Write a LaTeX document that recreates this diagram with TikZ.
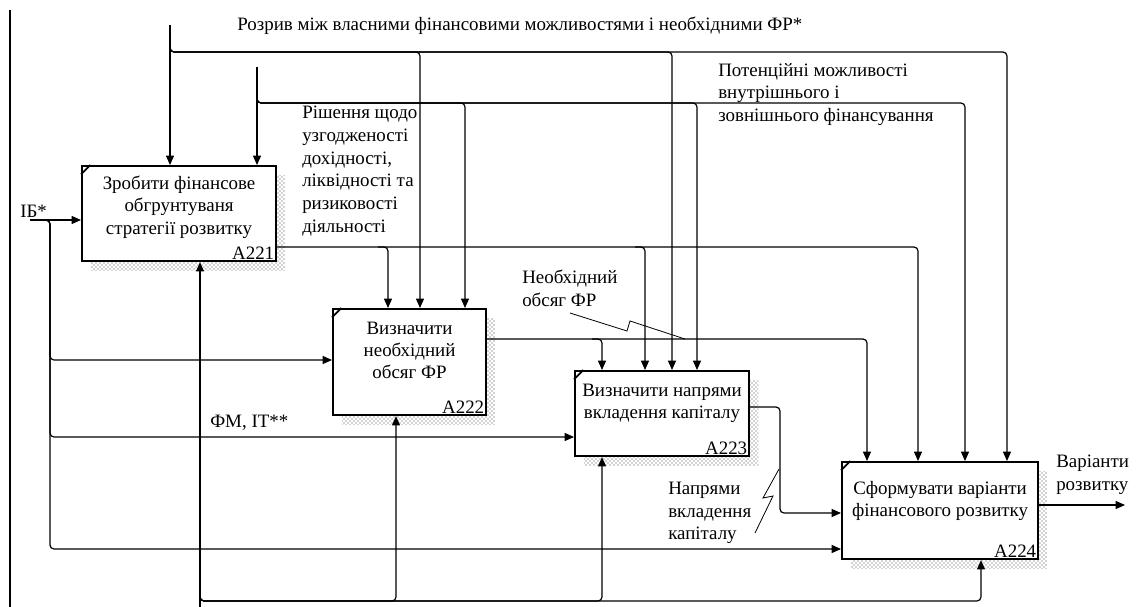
\documentclass[tikz,border=0pt]{standalone}
\usepackage{fontspec}
\setmainfont{Liberation Serif}
\usepackage{tikz}
\usetikzlibrary{arrows.meta,patterns,positioning}
\def\abox#1#2#3#4#5#6#7{%
  \fill[shade,shift={(10,10)}] (#2) rectangle ++(#3,#4);
  \node[func,anchor=north west,minimum width=#3*0.75pt,minimum height=#4*0.75pt] (#1) at (#2) {};
  \draw[line width=1.4pt] ([yshift=-7pt]#1.north west) -- ([xshift=7pt]#1.north west);
  \node[txt,align=center,anchor=north] (#1t) at ([yshift=-#7pt]#1.north) {#5};
  \node[num] (#1n) at (#1.south east) {#6};}
\tikzstyle{func}=[draw,line width=1.6pt,fill=white,inner sep=0pt]
\tikzstyle{shade}=[pattern=crosshatch dots,pattern color=black!75]
\tikzstyle{flow}=[line width=0.9pt,rounded corners=3pt]
\tikzstyle{tip}=[-{Triangle[length=7pt,width=6pt]}]
\tikzstyle{txt}=[font=\fontsize{14.2}{16.8}\selectfont,inner sep=0pt,align=left]
\tikzstyle{num}=[font=\fontsize{14.2}{16.8}\selectfont,anchor=south east,inner sep=2pt]

\begin{document}
\begin{tikzpicture}[x=0.75pt,y=-0.75pt]
    \useasboundingbox (0,0) rectangle (1136,607);
    \draw[line width=0.9pt] (10,10) -- (10,607);
    % activities
    \abox{a221}{81,165}{194}{95}{Зробити фінансове\\обгрунтуваня\\стратегії розвитку}{A221}{8}
    \abox{a222}{332,308}{153}{106}{Визначити\\необхідний\\обсяг ФР}{A222}{10}
    \abox{a223}{574,370}{174}{85}{Визначити напрями\\вкладення капіталу}{A223}{10}
    \abox{a224}{841,461}{196}{97}{Сформувати варіанти\\фінансового розвитку}{A224}{15}
    % controls
    \coordinate (gap) at (170,25);
    \draw[flow,tip] (gap) -- (gap |- a221.north);
    \draw[flow,tip] (170,44) -- (170,52) -- (420,52) -- (420,52 |- a222.north);
    \draw[flow,tip] (170,44) -- (170,52) -- (672,52) -- (672,52 |- a223.north);
    \draw[flow,tip] (170,44) -- (170,52) -- (1007,52) -- (1007,52 |- a224.north);
    \coordinate (pot) at (257,67);
    \draw[flow,tip] (pot) -- (pot |- a221.north);
    \draw[flow,tip] (257,95) -- (257,103) -- (465,103) -- (465,103 |- a222.north);
    \draw[flow,tip] (257,95) -- (257,103) -- (697,103) -- (697,103 |- a223.north);
    \draw[flow,tip] (257,95) -- (257,103) -- (965,103) -- (965,103 |- a224.north);
    % outputs
    \draw[flow,tip] (a221.east |- 0,247) -- (918,247) -- (918,247 |- a224.north);
    \draw[flow,tip] (378,247) -- (388,247) -- (388,247 |- a222.north);
    \draw[flow,tip] (635,247) -- (645,247) -- (645,247 |- a223.north);
    \draw[flow,tip] (a222.east |- 0,339) -- (867,339) -- (867,339 |- a224.north);
    \draw[flow,tip] (592,339) -- (602,339) -- (602,339 |- a223.north);
    \draw[flow,tip] (a223.east |- 0,407) -- (780,407) -- (780,513) -- (a224.west |- 0,513);
    \coordinate (out) at (1125,505);
    \draw[flow,tip] (a224.east |- out) -- (out);
    % inputs
    \coordinate (ib) at (30,220);
    \draw[flow,tip] (ib) -- (ib -| a221.west);
    \draw[flow,tip] (42,220) -- (50,220) -- (50,360) -- (a222.west |- 0,360);
    \draw[flow,tip] (42,220) -- (50,220) -- (50,437) -- (a223.west |- 0,437);
    \draw[flow,tip] (42,220) -- (50,220) -- (50,549) -- (a224.west |- 0,549);
    % mechanisms
    \coordinate (mech) at (200,607);
    \draw[flow,tip] (mech) -- (mech |- a221.south);
    \draw[flow,tip] (200,592) -- (200,601) -- (396,601) -- (396,601 |- a222.south);
    \draw[flow,tip] (200,592) -- (200,601) -- (602,601) -- (602,601 |- a223.south);
    \draw[flow,tip] (200,592) -- (200,601) -- (981,601) -- (981,601 |- a224.south);
    % labels
    \node[txt,anchor=west] (gapl) at (237,26) {Розрив між власними фінансовими можливостями і необхідними ФР*};
    \node[txt,anchor=north west] (potl) at (718,63) {Потенційні можливості\\внутрішнього і\\зовнішнього фінансування};
    \node[txt,anchor=north west,font=\fontsize{14.2}{17}\selectfont] (decl) at (302,106) {Рішення щодо\\узгодженості\\дохідності,\\ліквідності та\\ризиковості\\діяльності};
    \node[txt,anchor=west] (ibl) at (20,211) {ІБ*};
    \node[txt,anchor=west] (fml) at (210,423) {ФМ, ІТ**};
    \node[txt,anchor=north west] (varl) at (1056,455) {Варіанти\\розвитку};
    \node[txt,anchor=north west] (needl) at (522,270) {Необхідний\\обсяг ФР};
    \node[txt,anchor=north west] (dirl) at (668,482) {Напрями\\вкладення\\капіталу};
    \draw[line width=0.6pt] (570,313) -- (627,331) -- (630,321) -- (685,339);
    \draw[line width=0.6pt] (779,469) -- (763,498) -- (773,496) -- (755,533);
\end{tikzpicture}
\end{document}
